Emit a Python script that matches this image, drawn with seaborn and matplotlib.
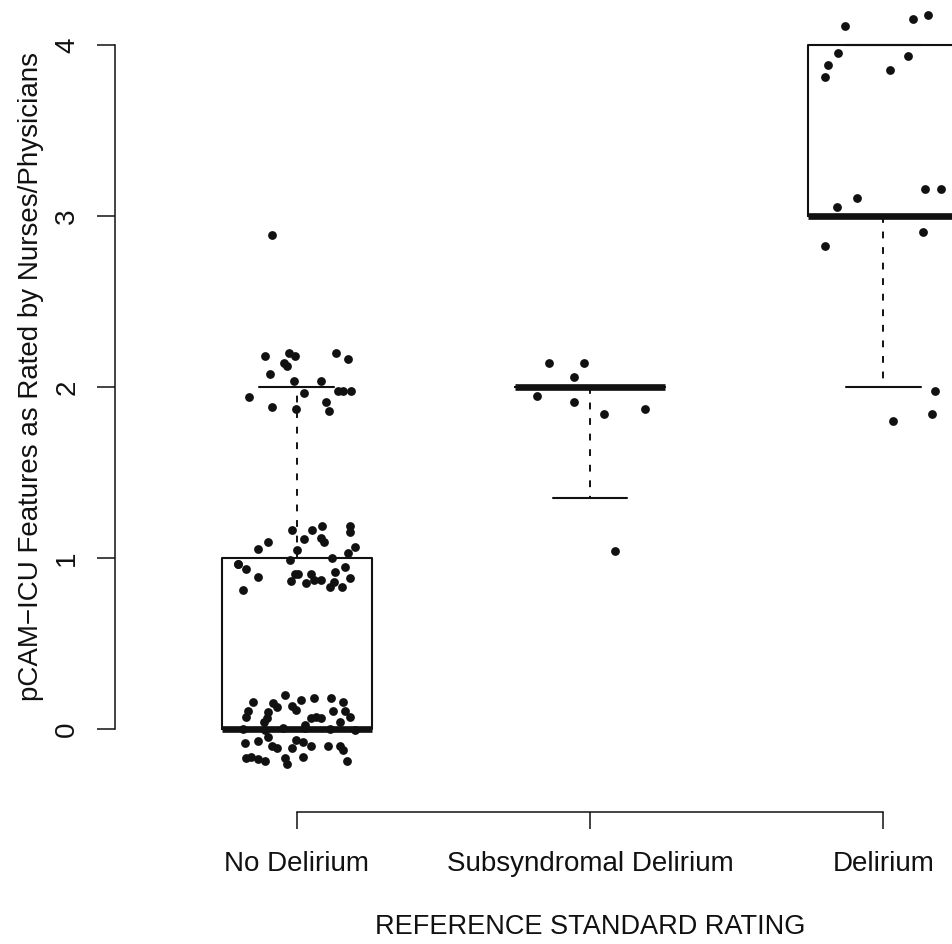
import matplotlib

matplotlib.use("Agg")

import matplotlib.pyplot as plt
import pandas as pd
import seaborn as sns

categories = ["No Delirium", "Subsyndromal Delirium", "Delirium"]

# box statistics (R boxplot)
box_q1 = [0.0, 2.0, 3.0]
box_med = [0.0, 2.0, 3.0]
box_q3 = [1.0, 2.0, 4.0]
whisk_lo = [0.0, 1.35, 2.0]
whisk_hi = [2.0, 2.0, 4.0]

# jittered points: horizontal offset from the group centre, and rated value
no_delirium_dx = [
    -0.084,
    -0.107, -0.027, -0.007, -0.043, -0.035, 0.135, 0.175, -0.092, -0.009, 0.084,
    0.025, 0.139, 0.158, 0.184, -0.163, -0.086, -0.004, 0.101, 0.109,
    -0.016, 0.052, 0.086, 0.183, 0.183, -0.200, -0.098, -0.132, 0.025, 0.082,
    0.093, 0.002, 0.198, 0.175, -0.024, 0.120, -0.200, -0.172, -0.132, -0.007,
    0.004, 0.050, -0.020, 0.033, 0.059, 0.084, 0.130, 0.164, 0.181, 0.127,
    0.113, 0.155, -0.183,
    -0.039, -0.149, 0.016, 0.058, 0.118, 0.158, -0.081, -0.069, -0.016, -0.001,
    -0.166, -0.172, -0.098, -0.103, 0.124, 0.164, 0.181, 0.050, 0.067, 0.084,
    -0.113, 0.147, 0.027,
    -0.184, -0.109, 0.027, 0.113, 0.198, -0.048,
    -0.177, -0.132, -0.098, -0.069, -0.086, -0.016, -0.001, 0.022, 0.050, 0.107,
    0.147, 0.158, -0.172, -0.155, -0.132, -0.109, -0.041, -0.035, 0.022, 0.170,
]
no_delirium_y = [
    2.889,
    2.181, 2.197, 2.181, 2.142, 2.123, 2.197, 2.165, 2.074, 2.035, 2.035,
    1.967, 1.978, 1.978, 1.978, 1.940, 1.885, 1.871, 1.912, 1.860,
    1.164, 1.164, 1.189, 1.187, 1.154, 0.963, 1.095, 1.053, 1.109, 1.119,
    1.095, 1.047, 1.066, 1.027, 0.988, 1.002, 0.963, 0.936, 0.891, 0.906,
    0.906, 0.906, 0.865, 0.852, 0.871, 0.871, 0.916, 0.949, 0.885, 0.858,
    0.832, 0.832, 0.813,
    0.199, 0.160, 0.170, 0.183, 0.183, 0.156, 0.150, 0.130, 0.136, 0.111,
    0.105, 0.072, 0.101, 0.063, 0.105, 0.105, 0.072, 0.063, 0.072, 0.063,
    0.039, 0.039, 0.023,
    0.000, -0.006, 0.006, 0.000, -0.003, 0.004,
    -0.084, -0.070, -0.045, -0.113, -0.098, -0.113, -0.064, -0.074, -0.098, -0.098,
    -0.098, -0.123, -0.171, -0.162, -0.175, -0.187, -0.171, -0.206, -0.165, -0.187,
]

subsyndromal_dx = [-0.139, -0.020, -0.055, -0.180, -0.055, 0.047, 0.188, 0.085]
subsyndromal_y = [2.139, 2.139, 2.060, 1.949, 1.911, 1.844, 1.870, 1.041]

delirium_dx = [
    -0.132, 0.100, 0.153, -0.153, -0.189, -0.198, 0.084, 0.022, 0.143, 0.198,
    -0.088, -0.156, 0.134, -0.198, 0.177, 0.168, 0.033,
]
delirium_y = [
    4.111, 4.150, 4.177, 3.951, 3.881, 3.813, 3.936, 3.854, 3.156, 3.156,
    3.104, 3.051, 2.905, 2.825, 1.978, 1.844, 1.803,
]

groups = [
    (no_delirium_dx, no_delirium_y),
    (subsyndromal_dx, subsyndromal_y),
    (delirium_dx, delirium_y),
]
points = pd.concat(
    [pd.DataFrame({"x": [i + d for d in dx], "y": y}) for i, (dx, y) in enumerate(groups)],
    ignore_index=True,
)

sns.set_style("ticks")
plt.rcParams["font.family"] = ["Liberation Sans", "DejaVu Sans"]
ink = "#111111"

W, H = 952, 944
fig = plt.figure(figsize=(W / 100, H / 100), dpi=100)
# plot region runs past the right edge, as in the cropped original
ax = fig.add_axes([115 / W, (H - 812) / H, 950 / W, 812 / H])

stats = [
    {"q1": q1, "med": med, "q3": q3, "whislo": lo, "whishi": hi, "fliers": []}
    for q1, med, q3, lo, hi in zip(box_q1, box_med, box_q3, whisk_lo, whisk_hi)
]
ax.bxp(
    stats,
    positions=range(len(categories)),
    widths=0.51,
    capwidths=0.255,
    showfliers=False,
    boxprops={"color": ink, "linewidth": 1.5},
    medianprops={"color": ink, "linewidth": 4.8, "solid_capstyle": "butt"},
    whiskerprops={"color": ink, "linewidth": 1.4, "linestyle": (0, (3.5, 4.5))},
    capprops={"color": ink, "linewidth": 1.5},
    manage_ticks=False,
)

sns.scatterplot(data=points, x="x", y="y", color=ink, s=40, linewidth=0, ax=ax, zorder=5)

ax.set_xlim(-0.62, 2.62)
ax.set_ylim(-0.485, 4.263)
ax.set_xticks(range(len(categories)))
ax.set_xticklabels(categories)
ax.set_yticks([0, 1, 2, 3, 4])

sns.despine(ax=ax)
ax.spines["left"].set_bounds(0, 4)
ax.spines["bottom"].set_bounds(0, 2)
for side in ("left", "bottom"):
    ax.spines[side].set_linewidth(1.1)
    ax.spines[side].set_color(ink)

ax.tick_params(axis="x", length=12, width=1.1, color=ink, pad=16, labelsize=20, labelcolor=ink)
ax.tick_params(axis="y", length=13, width=1.1, color=ink, pad=12, labelsize=20,
               labelcolor=ink, labelrotation=90)
for lab in ax.get_yticklabels():
    lab.set_verticalalignment("center")

ax.set_xlabel("REFERENCE STANDARD RATING", fontsize=19.5, color=ink)
ax.xaxis.set_label_coords(0.5, -0.125)
ax.set_ylabel("pCAM\u2212ICU Features as Rated by Nurses/Physicians", fontsize=20, color=ink)
ax.yaxis.set_label_coords(-0.075, 0.536)

fig.savefig("out.png", dpi=100)
